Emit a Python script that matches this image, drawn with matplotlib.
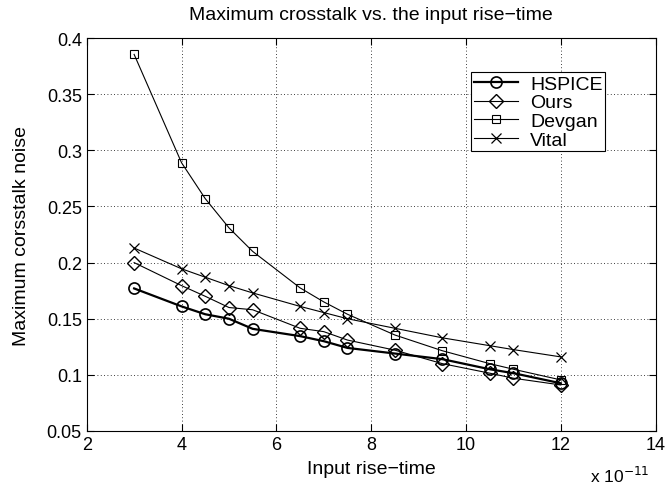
import matplotlib
matplotlib.use('Agg')
from matplotlib import pyplot as plt

plt.rcParams['font.family'] = ['Liberation Sans', 'DejaVu Sans']

# input rise-time, in units of 1e-11 s
rise = [3, 4, 4.5, 5, 5.5, 6.5, 7, 7.5, 8.5, 9.5, 10.5, 11, 12]
hspice = [0.177, 0.161, 0.154, 0.150, 0.141, 0.1345, 0.130, 0.124, 0.119, 0.114, 0.105, 0.1015, 0.0925]
ours = [0.200, 0.1795, 0.170, 0.160, 0.158, 0.1415, 0.1385, 0.131, 0.122, 0.110, 0.1015, 0.097, 0.091]
devgan = [0.3855, 0.289, 0.257, 0.231, 0.210, 0.1775, 0.165, 0.154, 0.1355, 0.1215, 0.110, 0.105, 0.0955]
vital = [0.213, 0.1945, 0.187, 0.1795, 0.173, 0.161, 0.1555, 0.150, 0.1415, 0.133, 0.126, 0.1225, 0.116]

fig = plt.figure(figsize=(6.67, 4.89), dpi=100)
ax = fig.add_axes([0.130, 0.1166, 0.853, 0.8034])

ax.plot(rise, hspice, 'k-o', lw=1.6, mfc='none', ms=8, mew=1.2, label='HSPICE')
ax.plot(rise, ours, 'k-D', lw=0.8, mfc='none', ms=7.5, mew=1.0, label='Ours')
ax.plot(rise, devgan, 'k-s', lw=0.8, mfc='none', ms=6, mew=0.8, label='Devgan')
ax.plot(rise, vital, 'k-x', lw=0.8, ms=7, mew=0.9, label='Vital')

ax.set_xlim(2, 14)
ax.set_ylim(0.05, 0.4)
ax.set_xticks([2, 4, 6, 8, 10, 12, 14])
ax.set_yticks([0.05, 0.1, 0.15, 0.2, 0.25, 0.3, 0.35, 0.4])
ax.set_yticklabels(['0.05', '0.1', '0.15', '0.2', '0.25', '0.3', '0.35', '0.4'])
ax.tick_params(direction='in', labelsize=13, length=5, top=True, right=True)
ax.grid(True, color='k', linestyle=(0, (1, 3)), linewidth=0.6)

ax.set_title('Maximum crosstalk vs. the input rise\u2212time', fontsize=14, pad=14)
ax.set_xlabel('Input rise\u2212time', fontsize=14, labelpad=5)
ax.set_ylabel('Maximum corsstalk noise', fontsize=14, labelpad=12)
ax.text(0.99, -0.13, 'x 10$^{-11}$', transform=ax.transAxes, ha='right', va='baseline', fontsize=12.5)

leg = ax.legend(loc='upper left', bbox_to_anchor=(0.675, 0.913), borderaxespad=0, fontsize=14,
                frameon=True, fancybox=False, edgecolor='k', framealpha=1,
                handlelength=2.3, borderpad=0.15, labelspacing=0.05, handletextpad=0.6)
leg.get_frame().set_linewidth(0.8)

fig.savefig('out.png', dpi=100)
